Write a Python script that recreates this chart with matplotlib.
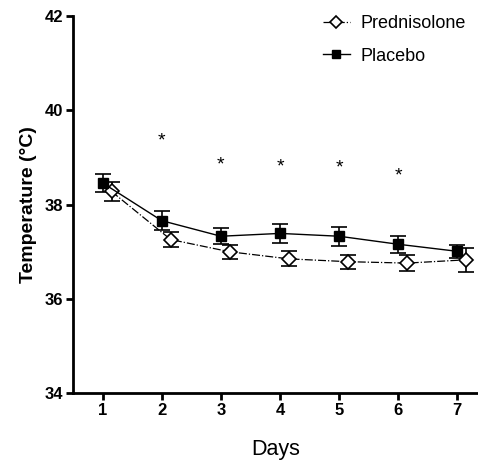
import matplotlib
matplotlib.use("Agg")
import matplotlib.pyplot as plt
from matplotlib.lines import Line2D
import numpy as np

plt.rcParams['font.family'] = ['Liberation Sans', 'DejaVu Sans']

days = [1, 2, 3, 4, 5, 6, 7]
pred = [38.28, 37.26, 37.0, 36.85, 36.79, 36.76, 36.83]
pred_err = [0.2, 0.15, 0.15, 0.16, 0.15, 0.17, 0.25]
placebo = [38.46, 37.66, 37.33, 37.39, 37.33, 37.16, 37.01]
placebo_err = [0.2, 0.2, 0.17, 0.2, 0.2, 0.18, 0.14]
star_days = [2, 3, 4, 5, 6]
star_y = [39.35, 38.85, 38.8, 38.77, 38.6]

fig = plt.figure(figsize=(4.78, 4.62), dpi=100)
ax = fig.add_axes([0.153, 0.149, 0.847, 0.816])

x = np.array(days)
ax.errorbar(x + 0.15, pred, yerr=pred_err, fmt='D', ls='-.', lw=0.9, color='black',
            mfc='white', mec='black', ms=7, mew=1.2, capsize=5.5, elinewidth=1.2,
            capthick=1.2)
ax.errorbar(x, placebo, yerr=placebo_err, fmt='s', ls='-', lw=1.0, color='black',
            mfc='black', mec='black', ms=7.5, capsize=5.5, elinewidth=1.2,
            capthick=1.2)

for d, y in zip(star_days, star_y):
    ax.text(d, y, '*', ha='center', va='center', fontsize=14)

ax.set_xlim(0.5, 7.35)
ax.set_ylim(34, 42)
ax.set_xticks(days)
ax.set_yticks([34, 36, 38, 40, 42])
ax.spines['top'].set_visible(False)
ax.spines['right'].set_visible(False)
for s in ['left', 'bottom']:
    ax.spines[s].set_linewidth(2)
ax.tick_params(width=2, length=5, labelsize=12, pad=2)
for lab in ax.get_xticklabels() + ax.get_yticklabels():
    lab.set_fontweight('bold')

ax.set_ylabel('Temperature (°C)', fontsize=14, fontweight='bold', labelpad=6)
ax.set_xlabel('Days', fontsize=15.5, labelpad=15)

handles = [
    Line2D([], [], color='black', ls='-.', lw=0.9, marker='D', ms=6,
           mfc='white', mec='black', mew=1.2),
    Line2D([], [], color='black', ls='-', lw=1.0, marker='s', ms=6,
           mfc='black', mec='black'),
]
ax.legend(handles, ['Prednisolone', 'Placebo'], loc='upper right', frameon=False,
          fontsize=13, bbox_to_anchor=(1.01, 1.045), handlelength=1.5,
          labelspacing=0.85, handletextpad=0.6)

fig.savefig('out.png', dpi=100)
